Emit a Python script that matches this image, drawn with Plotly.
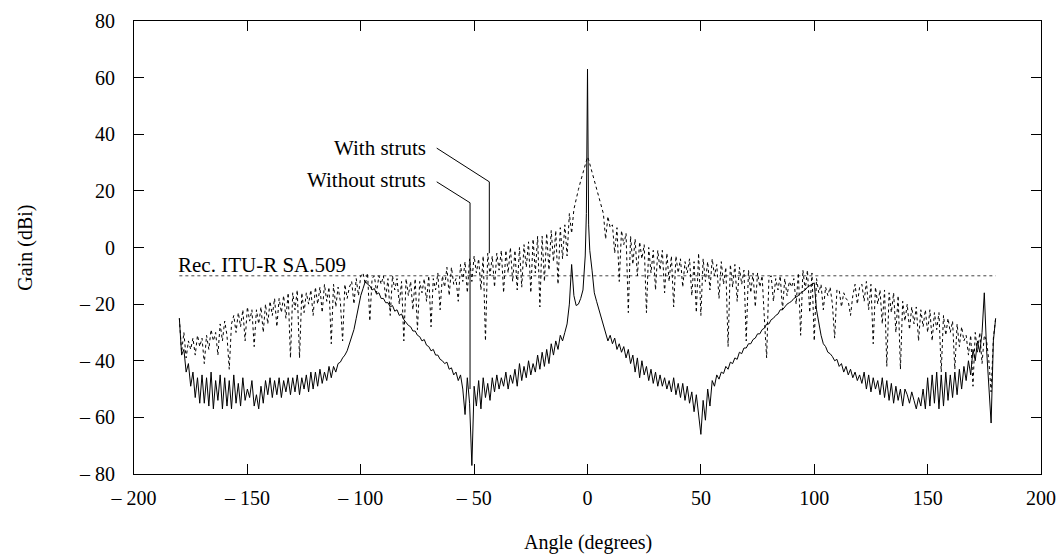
import plotly.graph_objects as go

# antenna gain pattern
angles = [
    -180, -179, -178, -177, -176, -175, -174, -173, -172, -171,
    -170, -169, -168, -167, -166, -165, -164, -163, -162, -161,
    -160, -159, -158, -157, -156, -155, -154, -153, -152, -151,
    -150, -149, -148, -147, -146, -145, -144, -143, -142, -141,
    -140, -139, -138, -137, -136, -135, -134, -133, -132, -131,
    -130, -129, -128, -127, -126, -125, -124, -123, -122, -121,
    -120, -119, -118, -117, -116, -115, -114, -113, -112, -111,
    -110, -109, -108, -107, -106, -105, -104, -103, -102, -101,
    -100, -99, -98, -97, -96, -95, -94, -93, -92, -91,
    -90, -89, -88, -87, -86, -85, -84, -83, -82, -81,
    -80, -79, -78, -77, -76, -75, -74, -73, -72, -71,
    -70, -69, -68, -67, -66, -65, -64, -63, -62, -61,
    -60, -59, -58, -57, -56, -55, -54, -53, -52, -51,
    -50, -49, -48, -47, -46, -45, -44, -43, -42, -41,
    -40, -39, -38, -37, -36, -35, -34, -33, -32, -31,
    -30, -29, -28, -27, -26, -25, -24, -23, -22, -21,
    -20, -19, -18, -17, -16, -15, -14, -13, -12, -11,
    -10, -9, -8, -7, -6, -5, -4, -3, -2,
    -1, -0.5, 0, 0.5, 1,
    2, 3, 4, 5, 6, 7, 8, 9, 10,
    11, 12, 13, 14, 15, 16, 17, 18, 19, 20,
    21, 22, 23, 24, 25, 26, 27, 28, 29, 30,
    31, 32, 33, 34, 35, 36, 37, 38, 39, 40,
    41, 42, 43, 44, 45, 46, 47, 48, 49, 50,
    51, 52, 53, 54, 55, 56, 57, 58, 59, 60,
    61, 62, 63, 64, 65, 66, 67, 68, 69, 70,
    71, 72, 73, 74, 75, 76, 77, 78, 79, 80,
    81, 82, 83, 84, 85, 86, 87, 88, 89, 90,
    91, 92, 93, 94, 95, 96, 97, 98, 99, 100,
    101, 102, 103, 104, 105, 106, 107, 108, 109, 110,
    111, 112, 113, 114, 115, 116, 117, 118, 119, 120,
    121, 122, 123, 124, 125, 126, 127, 128, 129, 130,
    131, 132, 133, 134, 135, 136, 137, 138, 139, 140,
    141, 142, 143, 144, 145, 146, 147, 148, 149, 150,
    151, 152, 153, 154, 155, 156, 157, 158, 159, 160,
    161, 162, 163, 164, 165, 166, 167, 168, 169, 170,
    171, 172, 173, 174, 175, 176, 177, 178, 179, 180,
]

gain_without_struts = [
    -25, -38, -36, -44, -41, -49, -44, -53, -46, -55,
    -45, -55, -46, -56, -44, -57, -47, -54, -45, -57,
    -46, -56, -47, -57, -45, -55, -48, -56, -46, -54,
    -50, -53, -47, -56, -52, -57, -49, -55, -47, -52,
    -46, -53, -47, -52, -46, -53, -47, -51, -46, -52,
    -46, -51, -45, -52, -46, -50, -45, -51, -44, -50,
    -44, -49, -43, -48, -44, -47, -42, -46, -42, -44,
    -41, -40.5, -39, -38, -36.5, -34, -32, -29, -25, -21,
    -17, -14.5, -12, -13, -13.5, -15, -14.5, -16.5, -16, -18,
    -18, -19.5, -19.5, -21, -20.5, -22.5, -22, -24, -23.5, -25.5,
    -26.5, -27.5, -28, -29.5, -29.5, -31, -31.5, -33, -32.5, -34.5,
    -35, -36.5, -36, -38, -38, -39.5, -40, -41, -40.5, -43,
    -42.5, -45, -44, -47, -45, -50, -59, -46, -55, -77,
    -49, -56, -47, -57, -46, -53, -48, -54, -46, -51,
    -45, -50, -46, -49, -44, -50, -45, -48, -43, -49,
    -41, -47, -42, -46, -40, -45, -41, -44, -38, -43,
    -37, -42, -36, -41, -34, -38, -33, -36, -31, -33,
    -30, -27, -20, -6, -17, -20.5, -20, -18, -15,
    -3, 12, 63, 8, -1,
    -8, -16, -19, -22, -25, -28, -30, -33, -31,
    -34, -32, -36, -34, -37, -35, -39, -36, -41, -38,
    -44, -39, -46, -40, -45, -42, -47, -43, -48, -44,
    -49, -45, -49, -46, -50, -47, -51, -46, -52, -48,
    -53, -48, -54, -49, -55, -51, -58, -52, -60, -66,
    -54, -61, -50, -56, -47, -49, -45, -46.5, -44, -44.5,
    -42, -43, -40.5, -41, -39, -39.5, -37, -37.5, -35.5, -35.5,
    -34, -34, -32.5, -32, -30.5, -30.5, -29, -28.5, -27, -27,
    -25.5, -25, -24, -23.5, -22, -22, -21, -20, -19.5, -19,
    -18, -17.5, -17, -16, -15.5, -15, -14, -13.5, -13, -12.5,
    -22, -27, -31, -34, -35, -37, -37.5, -38.5, -40, -39.5,
    -42, -41, -44, -42, -45, -43, -46, -44, -47, -45,
    -48, -44, -50, -45, -51, -46, -50, -47, -52, -46,
    -53, -47, -54, -48, -55, -49, -54, -50, -56, -50,
    -52, -55, -51, -54, -57, -53, -56, -50, -57, -46,
    -56, -45, -55, -44, -57, -45, -56, -44, -54, -45,
    -53, -44, -52, -43, -50, -42, -47, -40, -45, -36,
    -40, -33, -37, -30, -16, -36, -50, -62, -33, -25,
]

gain_with_struts = [
    -25, -37, -30, -39, -33, -36, -32, -38, -31, -35,
    -32, -41, -31, -36, -29, -33, -30, -38, -27, -33,
    -26, -31, -43, -27, -24, -30, -23, -28, -22, -33,
    -21, -26, -22, -35, -22, -27, -21, -30, -20, -27,
    -19, -24, -18, -28, -18, -23, -17, -25, -16, -39,
    -16, -22, -15, -39, -16, -23, -16, -20, -15, -24,
    -14, -20, -14, -23, -13, -19, -14, -34, -13, -21,
    -14, -19, -33, -13, -18, -14, -12, -20, -11, -17,
    -10, -9, -13, -9, -26, -11, -10, -16, -10, -13,
    -10, -18, -11, -24, -10, -15, -11, -20, -12, -33,
    -11, -17, -12, -22, -11, -29, -12, -16, -11, -19,
    -10, -28, -11, -15, -9, -22, -10, -14, -7, -17,
    -7, -13, -11, -19, -6, -12, -5, -16, -4, -12,
    -3, -9, -4, -15, -3, -33, -2, -10, -3, -14,
    -2, -8, -1, -16, -1, -9, 0, -12, -1, -15,
    0, -14, 1, -7, 2, -16, 3, -9, 4, -21,
    4, -12, 5, -8, 6, -5, 6, -13, 7, -4,
    8, -3, 12, 5, 13.5, 17.5, 20.5, 23.5, 26.5,
    29.5, 31, 32, 31, 29.5,
    26.5, 23.5, 20.5, 17.5, 14, 12, 3, 11, 7,
    8, -2, 7, -12, 6, 1, 5, -23, 4, -6,
    3, -10, 2, -4, 1, -23, 0, -9, -1, -15,
    -1, -8, -1, -16, -2, -12, -3, -21, -3, -9,
    -4, -14, -5, -9, -4, -17, -5, -23, -2, -24,
    -4, -12, -5, -15, -4, -10, -6, -18, -5, -13,
    -7, -35, -6, -14, -6, -19, -7, -13, -8, -33,
    -8, -16, -9, -21, -9, -14, -10, -25, -39, -11,
    -10, -19, -11, -15, -10, -22, -11, -17, -12, -14,
    -11, -20, -9, -31, -8, -15, -8, -23, -9, -33,
    -11, -16, -13, -22, -14, -17, -14, -20, -32, -15,
    -15, -21, -16, -18, -19, -24, -17, -13, -20, -14,
    -13, -19, -12, -22, -13, -34, -14, -20, -15, -27,
    -15, -42, -16, -23, -16, -30, -17, -43, -19, -26,
    -20, -29, -21, -27, -21, -33, -22, -28, -22, -30,
    -22, -33, -23, -29, -23, -44, -24, -31, -25, -30,
    -26, -43, -27, -35, -28, -33, -31, -38, -31, -49,
    -30, -37, -30, -41, -31, -33, -40, -51, -32, -25,
]

# Rec. ITU-R SA.509 reference level
rec_angles = [-180, 180]
rec_gain = [-10, -10]

x_ticks = [-200, -150, -100, -50, 0, 50, 100, 150, 200]
x_labels = ["\u2013 200", "\u2013 150", "\u2013 100", "\u2013 50", "0", "50", "100", "150", "200"]
y_ticks = [-80, -60, -40, -20, 0, 20, 40, 60, 80]
y_labels = ["\u2013 80", "\u2013 60", "\u2013 40", "\u2013 20", "0", "20", "40", "60", "80"]

FONT = "Liberation Serif, Times New Roman, serif"

fig = go.Figure()
fig.add_trace(go.Scatter(x=rec_angles, y=rec_gain, mode="lines",
                         line=dict(color="#444", width=1, dash="dot"), name="Rec. ITU-R SA.509"))
fig.add_trace(go.Scatter(x=angles, y=gain_with_struts, mode="lines",
                         line=dict(color="black", width=1, dash="dot"), name="With struts"))
fig.add_trace(go.Scatter(x=angles, y=gain_without_struts, mode="lines",
                         line=dict(color="black", width=1), name="Without struts"))

axis_style = dict(showgrid=False, zeroline=False, showline=True, linecolor="black", linewidth=1,
                  mirror="ticks", ticks="inside", ticklen=10, tickcolor="black", tickwidth=1,
                  automargin=False, ticklabeloverflow="allow")

fig.update_layout(
    width=1061, height=556,
    margin=dict(l=134, r=20, t=21, b=82),
    plot_bgcolor="white", paper_bgcolor="white",
    showlegend=False,
    font=dict(family=FONT, size=20, color="black"),
    xaxis=dict(range=[-200, 200], tickvals=x_ticks, ticktext=x_labels, ticklabelstandoff=6, **axis_style),
    yaxis=dict(range=[-80, 80], tickvals=y_ticks, ticktext=y_labels, ticklabelstandoff=14, **axis_style),
)

# axis titles
fig.add_annotation(x=0.5, y=-0.152, xref="paper", yref="paper", text="Angle (degrees)",
                   showarrow=False, xanchor="center", yanchor="middle")
fig.add_annotation(x=-0.12, y=0.5, xref="paper", yref="paper", text="Gain (dBi)", textangle=-90,
                   showarrow=False, xanchor="center", yanchor="middle")

# labels with leader lines
fig.add_annotation(x=-70.5, y=35.1, text="With struts", showarrow=False, xanchor="right", yanchor="middle",
                   font=dict(size=21))
fig.add_annotation(x=-70.5, y=23.8, text="Without struts", showarrow=False, xanchor="right", yanchor="middle",
                   font=dict(size=21))
fig.add_annotation(x=-181.5, y=-6.3, text="Rec. ITU-R SA.509", showarrow=False, xanchor="left", yanchor="middle",
                   font=dict(size=21))
fig.add_shape(type="path", path="M -66.5,35.1 L -43.3,23.2 L -43.3,-2", line=dict(color="black", width=1))
fig.add_shape(type="path", path="M -66.5,23.2 L -51.8,15.8 L -51.8,-50", line=dict(color="black", width=1))

# drop the default page margin so the figure sits at the window's corner
fig.write_html("out.html", config={"displayModeBar": False},
               post_script="document.body.style.margin = '0';")
